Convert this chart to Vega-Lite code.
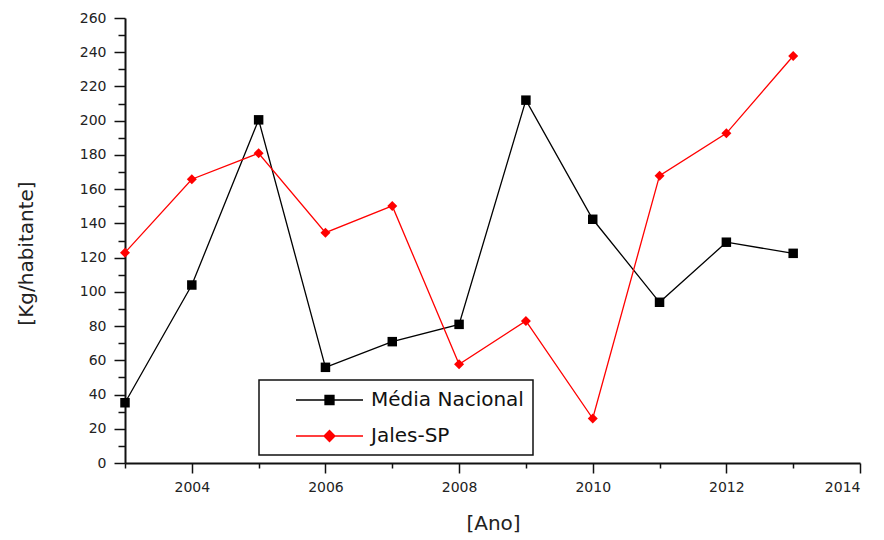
{
  "$schema": "https://vega.github.io/schema/vega-lite/v6.json",
  "width": 735,
  "height": 445,
  "autosize": "none",
  "padding": {"left": 125, "top": 18, "right": 24, "bottom": 77},
  "background": "white",
  "config": {
    "view": {"stroke": null},
    "font": "DejaVu Sans",
    "axis": {"grid": false, "domainColor": "#111", "tickColor": "#111", "labelFont": "DejaVu Sans", "titleFont": "DejaVu Sans", "labelColor": "#222", "titleColor": "#222"}
  },
  "data": {
    "values": [
      {"ano": 2003, "serie": "Média Nacional", "valor": 35.2},
      {"ano": 2004, "serie": "Média Nacional", "valor": 104},
      {"ano": 2005, "serie": "Média Nacional", "valor": 200.5},
      {"ano": 2006, "serie": "Média Nacional", "valor": 55.9},
      {"ano": 2007, "serie": "Média Nacional", "valor": 70.9},
      {"ano": 2008, "serie": "Média Nacional", "valor": 81},
      {"ano": 2009, "serie": "Média Nacional", "valor": 212},
      {"ano": 2010, "serie": "Média Nacional", "valor": 142.4},
      {"ano": 2011, "serie": "Média Nacional", "valor": 93.9},
      {"ano": 2012, "serie": "Média Nacional", "valor": 129},
      {"ano": 2013, "serie": "Média Nacional", "valor": 122.5},
      {"ano": 2003, "serie": "Jales-SP", "valor": 122.9},
      {"ano": 2004, "serie": "Jales-SP", "valor": 165.8},
      {"ano": 2005, "serie": "Jales-SP", "valor": 181},
      {"ano": 2006, "serie": "Jales-SP", "valor": 134.6},
      {"ano": 2007, "serie": "Jales-SP", "valor": 150.2},
      {"ano": 2008, "serie": "Jales-SP", "valor": 57.7},
      {"ano": 2009, "serie": "Jales-SP", "valor": 83},
      {"ano": 2010, "serie": "Jales-SP", "valor": 26},
      {"ano": 2011, "serie": "Jales-SP", "valor": 167.9},
      {"ano": 2012, "serie": "Jales-SP", "valor": 192.6},
      {"ano": 2013, "serie": "Jales-SP", "valor": 237.8}
    ]
  },
  "resolve": {"axis": {"x": "independent", "y": "independent"}},
  "layer": [
    {
      "mark": {"type": "point", "opacity": 0},
      "encoding": {
        "x": {"field": "ano", "type": "quantitative", "scale": {"domain": [2003, 2014], "nice": false, "zero": false},
          "axis": {"orient": "bottom", "values": [2003, 2005, 2007, 2009, 2011, 2013], "labels": false, "domain": false, "tickSize": 5, "tickWidth": 1.5, "title": null}},
        "y": {"field": "valor", "type": "quantitative", "scale": {"domain": [0, 260], "nice": false},
          "axis": {"orient": "left", "values": [10, 30, 50, 70, 90, 110, 130, 150, 170, 190, 210, 230, 250], "labels": false, "domain": false, "tickSize": 7, "tickWidth": 1.5, "title": null}}
      }
    },
    {
      "mark": {"type": "line", "strokeWidth": 1.3},
      "encoding": {
        "x": {"field": "ano", "type": "quantitative", "scale": {"domain": [2003, 2014], "nice": false, "zero": false},
          "axis": {"orient": "bottom", "values": [2004, 2006, 2008, 2010, 2012, 2014], "format": "d", "tickSize": 10, "tickWidth": 1.5, "domainWidth": 2, "labelFontSize": 14, "labelPadding": 7,
            "title": "[Ano]", "titleFontSize": 20, "titleFontWeight": "normal", "titleX": 368, "titleY": 60, "titleBaseline": "middle", "titleAlign": "center"}},
        "y": {"field": "valor", "type": "quantitative", "scale": {"domain": [0, 260], "nice": false},
          "axis": {"orient": "left", "values": [0, 20, 40, 60, 80, 100, 120, 140, 160, 180, 200, 220, 240, 260], "tickSize": 11, "tickWidth": 1.5, "domainWidth": 2, "labelFontSize": 14, "labelPadding": 8,
            "title": "[Kg/habitante]", "titleFontSize": 20, "titleFontWeight": "normal", "titleAngle": -90, "titleX": -99, "titleY": 235, "titleBaseline": "middle", "titleAlign": "center"}},
        "color": {"field": "serie", "type": "nominal",
          "scale": {"domain": ["Média Nacional", "Jales-SP"], "range": ["#000000", "#ff0000"]},
          "legend": {
            "title": null, "orient": "none", "legendX": 134, "legendY": 362,
            "strokeColor": "#111", "padding": 9, "rowPadding": 15,
            "symbolSize": 400, "symbolStrokeWidth": 1.3,
            "labelFont": "DejaVu Sans", "labelFontSize": 20, "labelOffset": 81, "labelColor": "#111", "labelLimit": 400,
            "encode": {
              "legend": {"update": {"strokeWidth": {"value": 1.5}}},
              "symbols": {"update": {
                "shape": {"signal": "datum.value === 'Média Nacional' ? 'M1.7,0H8.4M4.6,-0.45H5.5V0.45H4.6Z' : 'M1.7,0H8.4M5.05,-0.55L5.6,0L5.05,0.55L4.5,0Z'"},
                "fill": {"signal": "datum.value === 'Média Nacional' ? '#000000' : '#ff0000'"},
                "fillOpacity": {"value": 1},
                "opacity": {"value": 1}
              }}
            }
          }}
      }
    },
    {
      "transform": [{"filter": "datum.serie === 'Média Nacional'"}],
      "mark": {"type": "point", "filled": true, "opacity": 1, "shape": "square", "size": 90, "color": "#000000"},
      "encoding": {
        "x": {"field": "ano", "type": "quantitative", "axis": null},
        "y": {"field": "valor", "type": "quantitative", "axis": null}
      }
    },
    {
      "transform": [{"filter": "datum.serie === 'Jales-SP'"}],
      "mark": {"type": "point", "filled": true, "opacity": 1, "shape": "diamond", "size": 100, "color": "#ff0000"},
      "encoding": {
        "x": {"field": "ano", "type": "quantitative", "axis": null},
        "y": {"field": "valor", "type": "quantitative", "axis": null}
      }
    }
  ]
}
